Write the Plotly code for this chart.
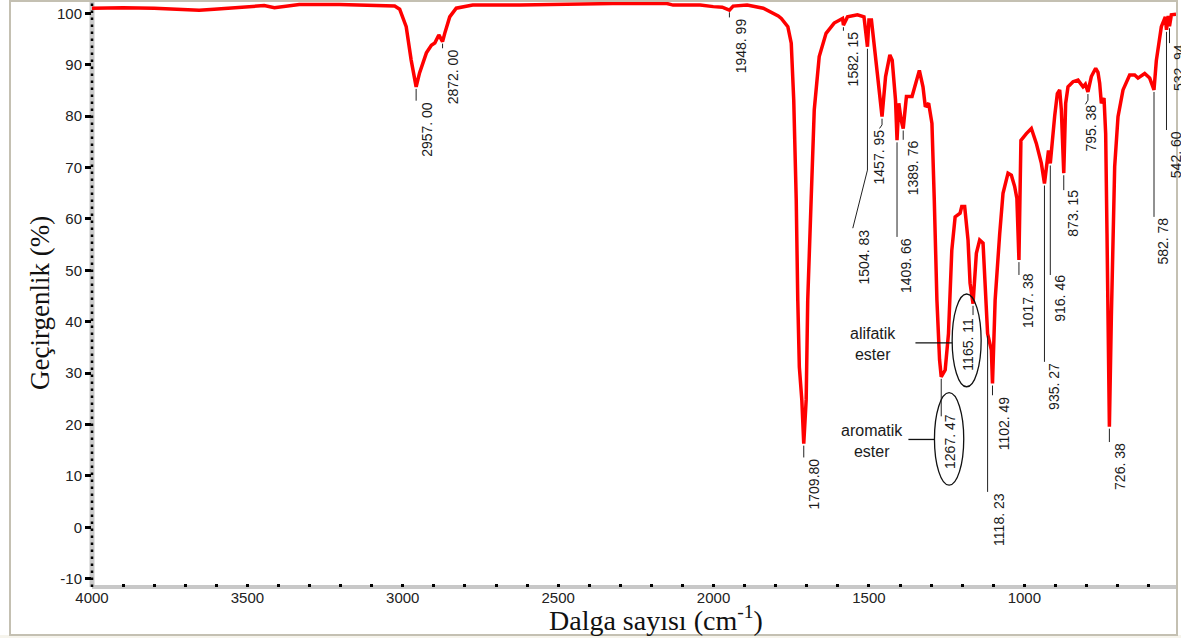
import numpy as np
import plotly.graph_objects as go

# ---------------- data ----------------
wavenumber = [4000, 3900, 3800, 3700, 3655, 3607, 3550, 3494, 3446, 3413, 3381, 3333, 3204, 3075,
              3026, 3010, 2989, 2973, 2957, 2946, 2924, 2908, 2897, 2884, 2872, 2865, 2849, 2828,
              2775, 2623, 2536, 2430, 2324, 2237, 2150, 2130, 2043, 2001, 1972, 1948.99, 1937, 1892,
              1840, 1792, 1782, 1761, 1750, 1742, 1734, 1729, 1724, 1716, 1709.8, 1702, 1697, 1686,
              1676, 1660, 1638, 1612, 1585, 1582.15, 1569, 1537, 1516, 1504.83, 1500, 1492, 1484,
              1473, 1457.95, 1446.5, 1432.7, 1425.2, 1414.5, 1409.66, 1403.9, 1396.4, 1389.76,
              1379.4, 1361.3, 1350.6, 1337.8, 1326.1, 1318.6, 1307.9, 1297.3, 1289.8, 1281.3,
              1272.8, 1267.47, 1254.7, 1244.1, 1233.4, 1222.7, 1206.7, 1201.4, 1192, 1181.2,
              1174.7, 1165.11, 1154.4, 1143.7, 1132.9, 1125.4, 1118.23, 1110, 1106.1, 1102.49,
              1094, 1079.3, 1068.6, 1052.5, 1041.8, 1031.1, 1024, 1017.38, 1011, 993.5, 977.4,
              961.4, 945.2, 935.27, 926.7, 922.3, 916.46, 910, 902.4, 893.8, 886.3, 880.9, 876.5,
              873.15, 867, 859.5, 843.4, 827.3, 811.2, 803.7, 795.38, 784.4, 770.5, 763, 757.6,
              752.2, 743.6, 738.3, 734, 730.8, 726.38, 720, 714.7, 709.3, 698.6, 682.5, 661.1, 645,
              634.3, 612.8, 596.7, 582.78, 575.3, 559.2, 546.4, 542.6, 537, 532.94, 527, 512]
transmittance = [101.0, 101.1, 101.0, 100.8, 100.6, 100.8, 101.1, 101.3, 101.5, 101.1, 101.4, 101.7,
                 101.7, 101.6, 101.4, 100.8, 97.4, 90.9, 85.7, 88.4, 92.3, 93.8, 94.2, 95.8, 94.5,
                 96.1, 99.3, 101.0, 101.6, 101.6, 101.7, 101.9, 101.9, 101.9, 101.9, 101.6, 101.6,
                 101.3, 101.2, 100.6, 101.4, 101.6, 101.0, 99.5, 99.0, 97.4, 94.2, 83.1, 63.7, 44.2,
                 31.2, 24.8, 16.3, 24.8, 44.2, 63.7, 81.2, 91.6, 96.1, 98.1, 99.0, 97.7, 99.3, 99.7,
                 99.3, 93.5, 98.7, 98.7, 94.8, 88.3, 79.9, 87.7, 91.9, 90.9, 83.1, 75.3, 82.5, 79.2,
                 77.6, 83.8, 83.8, 86.4, 88.9, 85.7, 81.8, 82.5, 78.6, 63.7, 44.2, 32.6, 29.3, 30.6,
                 37.7, 53.9, 60.4, 61.1, 62.4, 62.4, 55.9, 47.5, 43.5, 53.3, 55.9, 55.3, 44.2, 37.7,
                 35.5, 34.5, 28.0, 44.2, 57.1, 65.0, 68.9, 68.5, 66.3, 64.0, 52.0, 75.3, 76.6, 77.6,
                 74.7, 70.8, 66.9, 72.0, 73.3, 70.8, 76.0, 80.0, 84.4, 85.1, 81.2, 72.0, 68.9, 82.5,
                 85.7, 86.7, 87.0, 85.7, 86.2, 84.7, 87.7, 89.3, 88.5, 86.4, 82.5, 83.5, 76.6, 57.1,
                 41.0, 19.6, 41.0, 57.1, 70.2, 79.9, 85.1, 88.0, 88.0, 87.4, 88.3, 87.4, 85.1, 90.8,
                 97.4, 99.3, 96.8, 99.5, 97.5, 99.7, 99.8]

peak_wn = [2957.00, 2872.00, 1948.99, 1709.80, 1582.15, 1504.83, 1457.95, 1409.66, 1389.76,
           1267.47, 1165.11, 1118.23, 1102.49, 1017.38, 935.27, 916.46, 873.15, 795.38, 726.38,
           582.78, 542.60, 532.94]
peak_text = ["2957. 00", "2872. 00", "1948. 99", "1709.80", "1582. 15", "1504. 83", "1457. 95",
             "1409. 66", "1389. 76", "1267. 47", "1165. 11", "1118. 23", "1102. 49", "1017. 38",
             "935. 27", "916. 46", "873. 15", "795. 38", "726. 38", "582. 78", "542. 60", "532. 94"]

x_tickvals = [4000, 3500, 3000, 2500, 2000, 1500, 1000]
x_ticktext = ["4000", "3500", "3000", "2500", "2000", "1500", "1000"]
y_tickvals = [-10, 0, 10, 20, 30, 40, 50, 60, 70, 80, 90, 100]
y_ticktext = ["-10", "0", "10", "20", "30", "40", "50", "60", "70", "80", "90", "100"]

group_text = ["alifatik<br>ester", "aromatik<br>ester"]

# ---------------- label placement (positions only) ----------------
label_layout = [
    dict(end=83.0, dx=11.5),
    dict(end=93.2, dx=10),
    dict(end=99.2, dx=12),
    dict(end=13.6, dx=9.8),
    dict(end=96.6, dx=9.7),
    dict(end=69.5, dx=11, bend=(1552, 58.2)),
    dict(end=78.3, dx=-3.5, bend=(1466, 77.6), text_on_line=True),
    dict(end=56.5, dx=9.5),
    dict(end=75.4, dx=9.8),
    dict(end=21.6, dx=9, top=22.2),
    dict(end=41.3, dx=-5, top=40.9),
    dict(end=6.9, dx=11.9),
    dict(end=25.7, dx=11.6),
    dict(end=49.1, dx=9.7, top=49.7),
    dict(end=32.2, dx=10.1),
    dict(end=49.1, dx=10, top=49.3),
    dict(end=65.6, dx=9.3, top=65.8),
    dict(end=83.1, dx=3.4, bend=(803.4, 82.3), text_on_line=True, top=82.4),
    dict(end=16.6, dx=10),
    dict(end=60.4, dx=9.2),
    dict(end=77.3, dx=9.2),
    dict(end=94.2, dx=9),
]

X_RANGE = [4000, 512]
Y_RANGE = [-11.6, 102.2]
L, R, T_M, B = 92, 5, 2, 51
W, H = 1181, 638
PW, PH = W - L - R, H - T_M - B

LABEL_FONT = dict(family="Liberation Sans, Arial, sans-serif", size=14, color="#1a1a1a")
LEADER = dict(color="#222222", width=1)

wn_arr = np.array(wavenumber, dtype=float)
tr_arr = np.array(transmittance, dtype=float)


def curve_at(w):
    return float(np.interp(w, wn_arr[::-1], tr_arr[::-1]))


fig = go.Figure()
fig.add_trace(go.Scatter(x=wavenumber, y=transmittance, mode="lines",
                         line=dict(color="#ff0000", width=3.5), hoverinfo="skip",
                         showlegend=False))

shapes = []
annotations = []

for w, txt, lay in zip(peak_wn, peak_text, label_layout):
    start = curve_at(w) - 0.4
    end = lay["end"]
    shapes.append(dict(type="line", xref="x", yref="y", x0=w, x1=w, y0=start, y1=end,
                       line=LEADER))
    ax, ay = w, end
    if "bend" in lay:
        bx, by = lay["bend"]
        shapes.append(dict(type="line", xref="x", yref="y", x0=w, x1=bx, y0=end, y1=by,
                           line=LEADER))
        if not lay.get("text_on_line"):
            ax, ay = bx, by
        else:
            ay = by
    ay = lay.get("top", ay)
    annotations.append(dict(x=ax, y=ay, xref="x", yref="y", text=txt, showarrow=False,
                            textangle=-90, xanchor="center", yanchor="top", xshift=lay["dx"],
                            font=LABEL_FONT, borderpad=0))

# ester group ellipses, captions and pointer lines
ellipse_box = [(1232.3, 1139.0, 45.4, 27.35), (1289.2, 1195.0, 26.2, 8.2)]
caption_pos = [(1485.5, 35.6), (1488.7, 16.8)]
pointer_line = [(1350.4, 1232.3, 35.9), (1373.0, 1289.2, 17.1)]
for (x0, x1, y0, y1), (cx, cy), (p0, p1, py), txt in zip(ellipse_box, caption_pos,
                                                        pointer_line, group_text):
    shapes.append(dict(type="circle", xref="x", yref="y", x0=x0, x1=x1, y0=y0, y1=y1,
                       line=dict(color="#111111", width=1.3)))
    shapes.append(dict(type="line", xref="x", yref="y", x0=p0, x1=p1, y0=py, y1=py,
                       line=dict(color="#111111", width=1.3)))
    annotations.append(dict(x=cx, y=cy, xref="x", yref="y", text=txt, showarrow=False,
                            xanchor="center", yanchor="middle",
                            font=dict(family="Liberation Sans, Arial, sans-serif", size=16,
                                      color="#1a1a1a")))


def px_x(p):
    return (p - L) / PW


def px_y(p):
    return (H - B - p) / PH


# axis bands (gray) with dotted overlay on y axis
shapes.append(dict(type="line", xref="paper", yref="paper", x0=0, x1=0, y0=0, y1=1,
                   line=dict(color="#c8c8c8", width=5), layer="below"))
shapes.append(dict(type="line", xref="paper", yref="paper", x0=0, x1=1, y0=0, y1=0,
                   line=dict(color="#c8c8c8", width=4), layer="below"))
shapes.append(dict(type="line", xref="paper", yref="paper", x0=0, x1=0, y0=0, y1=1,
                   line=dict(color="#000000", width=2.5, dash="2.5px,4.5px"), layer="above"))
# outer frame
shapes.append(dict(type="rect", xref="paper", yref="paper", x0=px_x(0), x1=px_x(W),
                   y0=px_y(H), y1=px_y(635), fillcolor="#f6f4ec", line=dict(width=0),
                   layer="below"))
shapes.append(dict(type="rect", xref="paper", yref="paper", x0=px_x(10), x1=px_x(1177),
                   y0=px_y(635), y1=px_y(1), line=dict(color="#c4c0b2", width=2),
                   layer="below"))

# axis titles
annotations.append(dict(x=px_x(656), y=px_y(618), xref="paper", yref="paper",
                        text="Dalga sayısı (cm<sup>-1</sup>)", showarrow=False,
                        xanchor="center", yanchor="middle",
                        font=dict(family="Liberation Serif, Times New Roman, serif", size=28,
                                  color="#111111")))
annotations.append(dict(x=px_x(40), y=px_y(303), xref="paper", yref="paper",
                        text="Geçirgenlik (%)", showarrow=False, textangle=-90,
                        xanchor="center", yanchor="middle",
                        font=dict(family="Liberation Serif, Times New Roman, serif", size=27,
                                  color="#111111")))

tick_font = dict(family="Liberation Sans, Arial, sans-serif", size=15, color="#222222")

fig.update_layout(
    width=W, height=H,
    margin=dict(l=L, r=R, t=T_M, b=B, pad=0),
    paper_bgcolor="white", plot_bgcolor="white",
    shapes=shapes, annotations=annotations,
    xaxis=dict(range=X_RANGE, showgrid=False, zeroline=False, showline=False,
               tickmode="array", tickvals=x_tickvals, ticktext=x_ticktext,
               ticks="inside", ticklen=3, tickwidth=3, tickcolor="#000000",
               minor=dict(ticks="inside", dtick=100, tick0=0, ticklen=3, tickwidth=2.5,
                          tickcolor="#000000", showgrid=False),
               tickfont=tick_font),
    yaxis=dict(range=Y_RANGE, showgrid=False, zeroline=False, showline=False,
               tickmode="array", tickvals=y_tickvals, ticktext=y_ticktext,
               ticks="outside", ticklen=6, tickwidth=2.5, tickcolor="#000000",
               tickfont=tick_font),
    showlegend=False,
)

fig.write_html("out.html", config=dict(displayModeBar=False),
               post_script="document.body.style.margin='0';document.body.style.overflow='hidden';")
